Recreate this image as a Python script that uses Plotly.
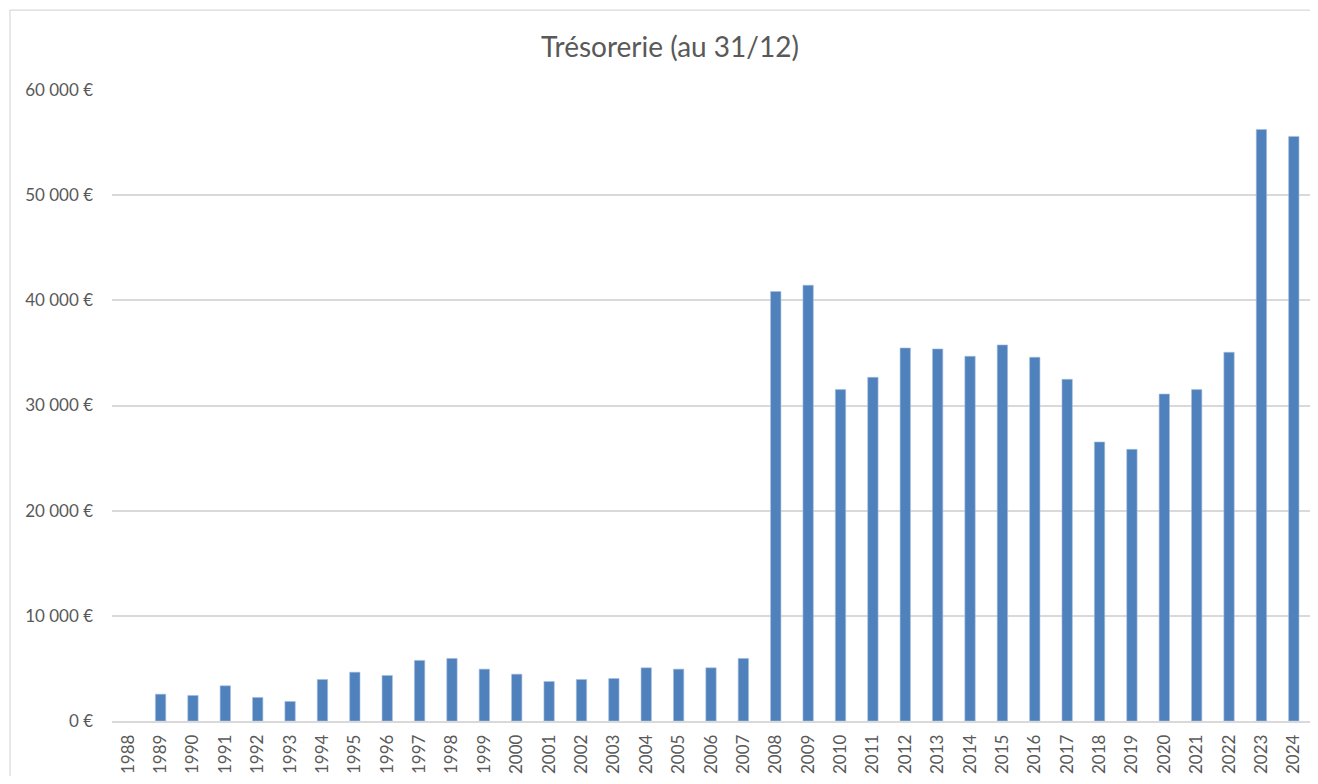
import plotly.graph_objects as go

years = [str(y) for y in range(1988, 2025)]
tresorerie = [
    None, 2550, 2430, 3350, 2240, 1860, 3950, 4640, 4330, 5760,
    5950, 4930, 4450, 3760, 3950, 4040, 5060, 4930, 5060, 5950,
    40840, 41440, 31510, 32680, 35470, 35380, 34680, 35760, 34590, 32490,
    26530, 25830, 31090, 31510, 35060, 56250, 55590,
]
y_ticks = [0, 10000, 20000, 30000, 40000, 50000, 60000]
y_tick_labels = ["0 €", "10 000 €", "20 000 €", "30 000 €", "40 000 €", "50 000 €", "60 000 €"]

# the page body has an 8px margin: work in reference pixels, shifted by OFF
OFF = 8
W, H = 1318 - 2 * OFF, 784 - 2 * OFF
ml = 112 - OFF
mr = 0
mt = 90 - OFF
mb = H - (721.5 - OFF)
pw = W - ml - mr
ph = H - mt - mb

fig = go.Figure(go.Bar(
    x=years, y=tresorerie,
    marker=dict(color="#4F81BD", line=dict(color="#A7BFDE", width=0.6)),
    hoverinfo="x+y",
))

def px2x(p):
    return (p - OFF - ml) / pw

def px2y(p):
    return (H - mb - (p - OFF)) / ph

fig.update_layout(
    width=W, height=H,
    margin=dict(l=ml, r=mr, t=mt, b=mb),
    paper_bgcolor="white", plot_bgcolor="white",
    bargap=0.68,
    showlegend=False,
    title=dict(text="Trésorerie (au 31/12)", x=(670 - OFF) / W, xanchor="center",
               y=1 - (47 - OFF) / H, yanchor="middle",
               font=dict(family="Lato", size=28, color="#595959")),
    font=dict(family="Lato", color="#595959"),
    xaxis=dict(
        type="category", tickangle=-90,
        tickfont=dict(family="Lato", size=17, color="#595959"),
        showgrid=False, showline=True, linecolor="#D9D9D9", linewidth=1.5,
        ticks="", ticklabelstandoff=5, fixedrange=True,
    ),
    yaxis=dict(
        range=[0, 60000], tickvals=y_ticks, ticktext=y_tick_labels,
        tickfont=dict(family="Lato", size=17, color="#595959"),
        showgrid=True, gridcolor="#D9D9D9", gridwidth=1.5,
        zeroline=False, showline=False, ticks="", ticklabelstandoff=18,
        fixedrange=True,
    ),
    shapes=[dict(
        type="rect", xref="paper", yref="paper",
        x0=px2x(10), x1=px2x(1340), y0=px2y(800), y1=px2y(10),
        line=dict(color="#D9D9D9", width=1.2), fillcolor="rgba(0,0,0,0)",
        layer="below",
    )],
)

fig.write_html("out.html")
